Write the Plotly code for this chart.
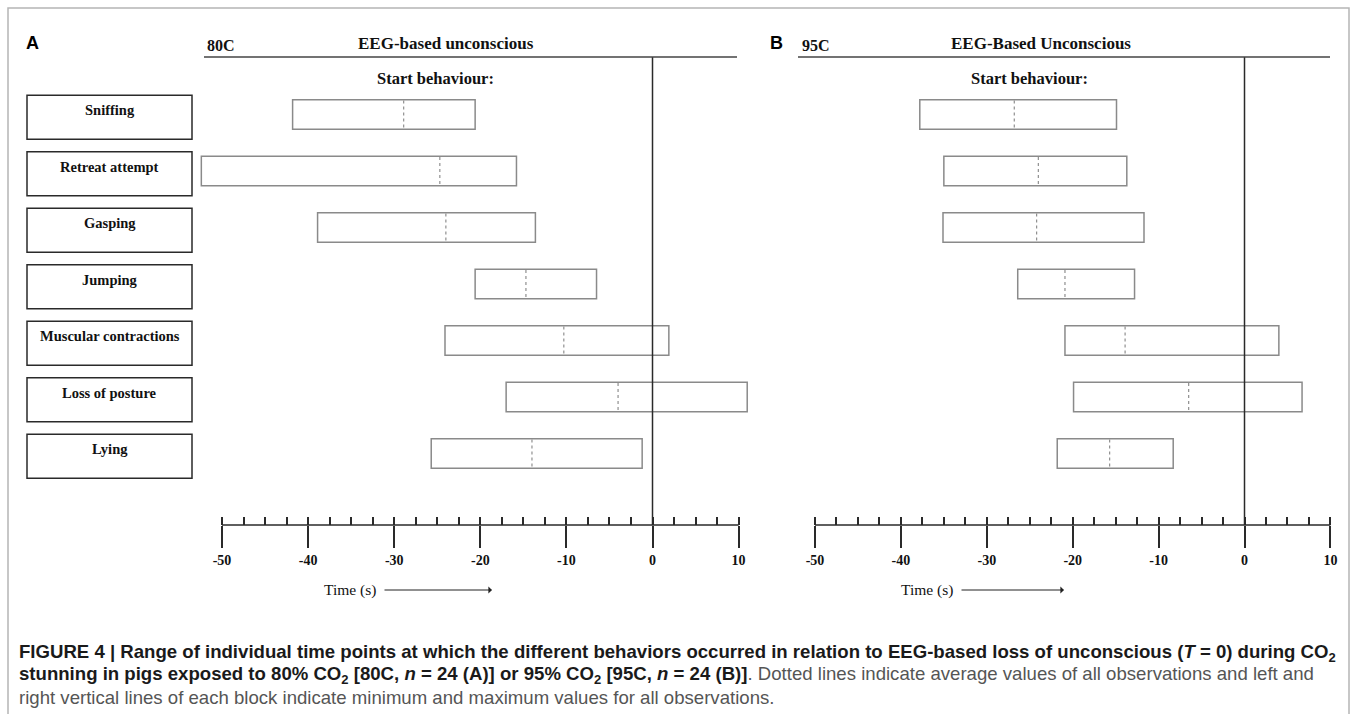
import plotly.graph_objects as go

W, H = 1356, 714

# ---------------- data ----------------
behaviours = ["Sniffing", "Retreat attempt", "Gasping", "Jumping",
              "Muscular contractions", "Loss of posture", "Lying"]

min_80 = [-41.8, -52.4, -38.9, -20.6, -24.1, -17.0, -25.7]
mean_80 = [-28.9, -24.7, -24.0, -14.7, -10.3, -4.0, -14.0]
max_80 = [-20.6, -15.8, -13.6, -6.5, 1.9, 11.0, -1.2]

min_95 = [-37.8, -35.0, -35.1, -26.4, -20.9, -19.9, -21.8]
mean_95 = [-26.8, -24.0, -24.2, -20.9, -13.9, -6.5, -15.7]
max_95 = [-14.9, -13.7, -11.7, -12.8, 4.0, 6.7, -8.3]

major_ticks = [-50, -40, -30, -20, -10, 0, 10]
major_labels = ["-50", "-40", "-30", "-20", "-10", "0", "10"]
minor_ticks = [-50, -47.5, -45, -42.5, -40, -37.5, -35, -32.5, -30, -27.5,
               -25, -22.5, -20, -17.5, -15, -12.5, -10, -7.5, -5, -2.5,
               0, 2.5, 5, 7.5, 10]

# ---------------- helpers ----------------
def px(x):
    return x / W


def py(y):
    return 1 - y / H


SERIF = "Liberation Serif"
SANS = "Liberation Sans"
DARK = "#2a2a2a"
BOXC = "#8a8a8a"

rows = list(range(len(behaviours)))
ROW0, STEP = 114.5, 56.5
PLOT_TOP, PLOT_BOT = 57, 525
y_range = [(PLOT_BOT - ROW0) / STEP, (PLOT_TOP - ROW0) / STEP]
XR = [-53.5, 12.5]

fig = go.Figure()

panels = [
    dict(xa="x", xm="x3", mins=min_80, means=mean_80, maxs=max_80),
    dict(xa="x2", xm="x4", mins=min_95, means=mean_95, maxs=max_95),
]
for p in panels:
    fig.add_trace(go.Bar(
        y=rows, x=[b - a for a, b in zip(p["mins"], p["maxs"])], base=p["mins"],
        orientation="h", width=0.52, xaxis=p["xa"], yaxis="y",
        marker=dict(color="white", line=dict(color=BOXC, width=1.5)),
        showlegend=False, hoverinfo="skip"))
    dx, dy = [], []
    for r, m in zip(rows, p["means"]):
        dx += [m, m, None]
        dy += [r - 0.25, r + 0.25, None]
    fig.add_trace(go.Scatter(
        x=dx, y=dy, mode="lines", xaxis=p["xm"], yaxis="y",
        line=dict(color="#8f8f8f", width=1.2, dash="dot"),
        showlegend=False, hoverinfo="skip"))

dom_bottom, dom_top = py(PLOT_BOT), py(PLOT_TOP)
left_dom = [px(652.5 + XR[0] * 8.61), px(652.5 + XR[1] * 8.61)]
right_dom = [px(1244.5 + XR[0] * 8.59), px(1244.5 + XR[1] * 8.59)]

major_axis = dict(range=XR, tickmode="array", tickvals=major_ticks, ticktext=major_labels,
                  ticks="outside", ticklen=22, tickwidth=1.5, tickcolor=DARK,
                  showline=False, showgrid=False, zeroline=False, anchor="y",
                  tickfont=dict(family=SERIF, size=14, color="#111", weight="bold"))
minor_axis = dict(range=XR, tickmode="array", tickvals=minor_ticks, ticks="inside",
                  ticklen=8, tickwidth=1.5, tickcolor=DARK, showticklabels=False,
                  showline=False, showgrid=False, zeroline=False, anchor="y")

fig.update_layout(
    width=W, height=H, margin=dict(l=0, r=0, t=0, b=0),
    paper_bgcolor="white", plot_bgcolor="rgba(0,0,0,0)",
    barmode="overlay", showlegend=False,
    xaxis=dict(domain=left_dom, **major_axis),
    xaxis2=dict(domain=right_dom, **major_axis),
    xaxis3=dict(overlaying="x", **minor_axis),
    xaxis4=dict(overlaying="x2", **minor_axis),
    yaxis=dict(domain=[dom_bottom, dom_top], range=y_range, visible=False),
)

shapes = []
# outer frame
shapes.append(dict(type="rect", xref="paper", yref="paper", x0=px(8), x1=px(1349),
                   y0=py(730), y1=py(8), line=dict(color="#b5b5b5", width=1.5)))
for xa, hl in [("x", (204, 737)), ("x2", (798, 1330))]:
    shapes.append(dict(type="line", xref=xa, yref="paper", x0=major_ticks[0], x1=major_ticks[-1],
                       y0=dom_bottom, y1=dom_bottom, line=dict(color=DARK, width=1.5)))
    shapes.append(dict(type="line", xref=xa, yref="paper", x0=0, x1=0,
                       y0=dom_bottom, y1=dom_top, line=dict(color=DARK, width=1.5)))
    shapes.append(dict(type="line", xref="paper", yref="paper", x0=px(hl[0]), x1=px(hl[1]),
                       y0=dom_top, y1=dom_top, line=dict(color="#444", width=1.5)))

# behaviour label boxes
for r in rows:
    shapes.append(dict(type="rect", xref="paper", yref="y", x0=px(27), x1=px(192),
                       y0=r - 0.34, y1=r + 0.44, line=dict(color=DARK, width=1.5)))

annotations = []
for r, name in zip(rows, behaviours):
    annotations.append(dict(xref="paper", yref="y", x=px(109.5), y=r, yshift=4,
                            xanchor="center", yanchor="middle",
                            text=f"<b>{name}</b>", showarrow=False,
                            font=dict(family=SERIF, size=14.5, color="#111")))


def txt(x, y, text, size, family=SERIF, anchor="center", color="#111"):
    annotations.append(dict(xref="paper", yref="paper", x=px(x), y=py(y), text=text,
                            showarrow=False, xanchor=anchor, yanchor="middle",
                            font=dict(family=family, size=size, color=color)))


# panel headings
txt(24, 43, "<b>A</b>", 18, SANS, "left", "#000")
txt(205, 46, "<b>80C</b>", 16, SERIF, "left")
txt(446, 43, "<b>EEG-based unconscious</b>", 17)
txt(435, 78, "<b>Start behaviour:</b>", 16.5)

txt(768, 43, "<b>B</b>", 18, SANS, "left", "#000")
txt(800, 46, "<b>95C</b>", 16, SERIF, "left")
txt(1041, 43, "<b>EEG-Based Unconscious</b>", 17)
txt(1029, 78, "<b>Start behaviour:</b>", 16.5)

# Time labels with arrows (text at arrow tail)
for tx, head in [(350, 492), (927, 1064)]:
    annotations.append(dict(xref="paper", yref="paper", x=px(head), y=py(590),
                            ax=tx - head, ay=0, text="Time (s)", showarrow=True,
                            arrowhead=1, arrowsize=1.2, arrowwidth=1, arrowcolor="#222",
                            startstandoff=7,
                            font=dict(family=SERIF, size=15.5, color="#111")))

# caption
cap1 = ("<b>FIGURE 4 | Range of individual time points at which the different behaviors occurred "
        "in relation to EEG-based loss of unconscious (<i>T</i> = 0) during CO<sub>2</sub></b>")
cap2 = ("<b>stunning in pigs exposed to 80% CO<sub>2</sub> [80C, <i>n</i> = 24 (A)] or 95% "
        "CO<sub>2</sub> [95C, <i>n</i> = 24 (B)]</b><span style='color:#555'>. Dotted lines indicate "
        "average values of all observations and left and</span>")
cap3 = "right vertical lines of each block indicate minimum and maximum values for all observations."
txt(17, 653, cap1, 18.6, SANS, "left", "#1a1a1a")
txt(17, 675, cap2, 18.6, SANS, "left", "#1a1a1a")
txt(17, 697, cap3, 18.6, SANS, "left", "#555")

fig.update_layout(shapes=shapes, annotations=annotations)
fig.write_html("out.html", config={"displayModeBar": False},
               post_script="document.body.style.margin='0';document.body.style.overflow='hidden';")
